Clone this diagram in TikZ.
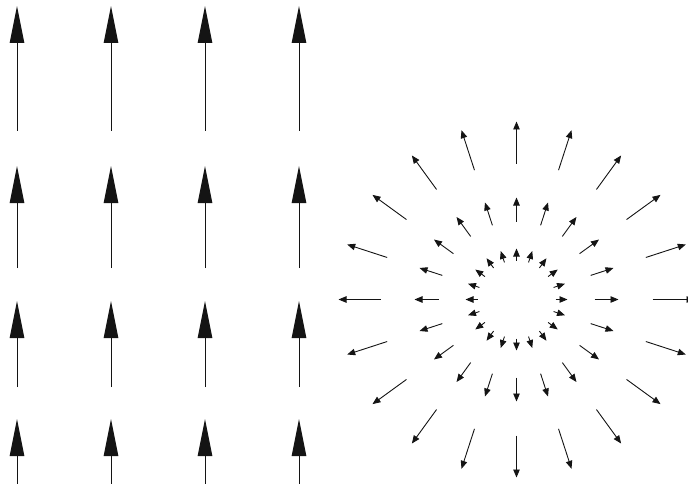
\documentclass[tikz,border=0pt]{standalone}
\usepackage{tikz}
\usetikzlibrary{
  arrows.meta,
  calc
}
\definecolor{ink}{RGB}{20,20,20}

\begin{document}
\begin{tikzpicture}[x=1pt, y=-1pt,
  upvec/.style={ink, line width=1pt, -{Triangle[length=37pt, width=14.5pt]}},
  radvec/.style={ink, line width=0.9pt, -{Triangle[length=8pt, width=6.5pt]}}]
  \useasboundingbox (0,0) rectangle (688,484);
  \clip (0,0) rectangle (688,484);
  % uniform field, left
  \foreach \x in {17,111,205,299}
    \foreach \tail/\tip in {131/6, 268/166, 387/301, 492/419}
      \draw[upvec] (\x,\tail) -- (\x,\tip);
  % source field, right
  \coordinate (hub) at (516.5,299.5);
  \foreach \r/\len in {39/12, 78/24, 136/42}
    \foreach \a in {0,18,...,342}
      \draw[radvec] ($(hub)+(\a:\r)$) -- ($(hub)+(\a:\r+\len)$);
\end{tikzpicture}
\end{document}
